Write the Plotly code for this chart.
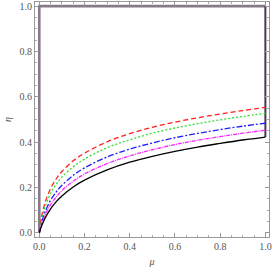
import plotly.graph_objects as go

mu = [0, 0.01, 0.025, 0.05, 0.075, 0.1, 0.15, 0.2, 0.3, 0.4, 0.5, 0.6, 0.7, 0.8, 0.9, 1.0]
eta_red = [0, 0.069, 0.131, 0.195, 0.238, 0.270, 0.317, 0.351, 0.401, 0.437, 0.465, 0.488, 0.507, 0.524, 0.539, 0.553]
eta_green = [0, 0.057, 0.113, 0.173, 0.214, 0.245, 0.291, 0.325, 0.375, 0.410, 0.439, 0.462, 0.481, 0.498, 0.513, 0.527]
eta_blue = [0, 0.044, 0.090, 0.143, 0.180, 0.209, 0.253, 0.286, 0.334, 0.369, 0.396, 0.419, 0.438, 0.455, 0.470, 0.483]
eta_magenta = [0, 0.036, 0.076, 0.124, 0.158, 0.186, 0.227, 0.259, 0.305, 0.339, 0.366, 0.389, 0.408, 0.424, 0.439, 0.452]
eta_black = [0, 0.029, 0.063, 0.105, 0.137, 0.162, 0.202, 0.232, 0.277, 0.311, 0.337, 0.359, 0.378, 0.394, 0.409, 0.422]

# boundary of region
bound_mu = [0, 0, 1]
bound_eta = [0, 1, 1]
right_mu = [1, 1]
right_eta = [1, 0.422]

series = [
    (eta_red, "#ff2020", "5px,3px"),
    (eta_green, "#30e030", "2px,2px"),
    (eta_blue, "#2020ff", "6px,2px,2px,2px"),
    (eta_magenta, "#ff20ff", "4px,1px,1px,1px"),
    (eta_black, "#000000", "solid"),
]

fig = go.Figure()
fig.add_trace(go.Scatter(x=bound_mu, y=bound_eta, mode="lines",
                         line=dict(color="#857a88", width=2.6), showlegend=False))
fig.add_trace(go.Scatter(x=right_mu, y=right_eta, mode="lines",
                         line=dict(color="#4a3850", width=2), showlegend=False))
for vals, col, dash in series:
    fig.add_trace(go.Scatter(x=mu, y=vals, mode="lines", line_shape="spline",
                             line=dict(color=col, width=1.3, dash=dash), showlegend=False))

axis_common = dict(
    showgrid=False, zeroline=False, showline=True, linecolor="#999999", linewidth=1,
    mirror="allticks", ticks="inside", ticklen=4, tickcolor="#999999", tickwidth=1,
    dtick=0.2, tick0=0, tickformat=".1f",
    tickfont=dict(family="Liberation Serif", size=10, color="#555555"),
    minor=dict(ticks="inside", ticklen=2, dtick=0.05, tickcolor="#aaaaaa", showgrid=False),
)

fig.update_xaxes(range=[-0.019, 1.016], title=dict(text="<i>μ</i>", font=dict(family="Liberation Serif", size=10, color="#555555"), standoff=6), **axis_common)
fig.update_yaxes(range=[-0.019, 1.018], title=dict(text="<i>η</i>", font=dict(family="Liberation Serif", size=10, color="#555555"), standoff=6), **axis_common)

fig.update_layout(width=273, height=268, margin=dict(l=35, r=4, t=2, b=31),
                  plot_bgcolor="white", paper_bgcolor="white")

fig.write_html("out.html", config={"displayModeBar": False, "staticPlot": True},
               post_script="document.body.style.margin='0';document.body.style.overflow='hidden';")
